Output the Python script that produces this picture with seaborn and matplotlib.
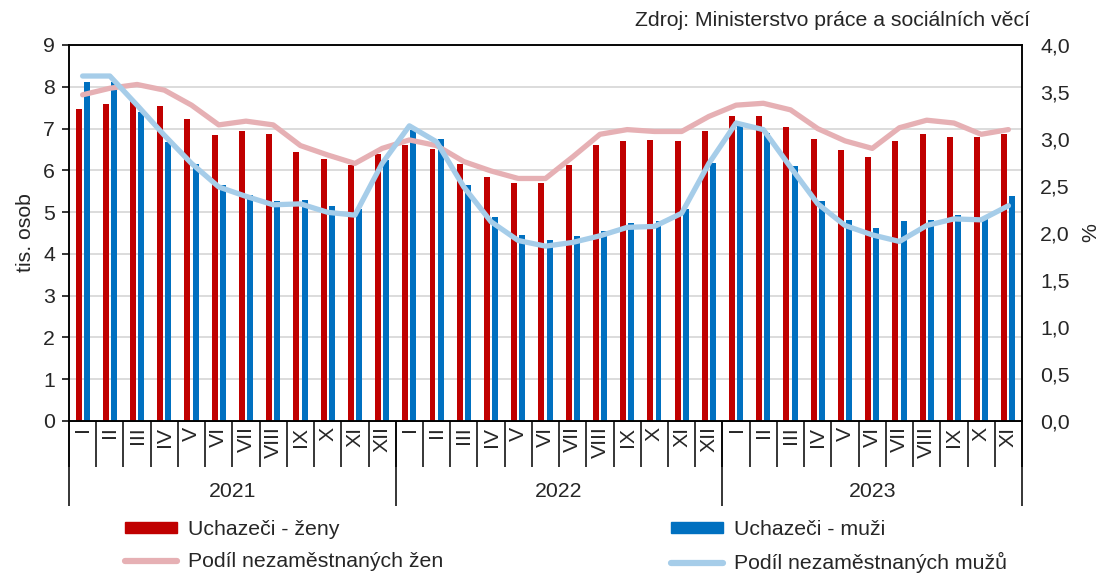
import pandas as pd
import matplotlib.pyplot as plt
import seaborn as sns
from matplotlib.patches import Patch
from matplotlib.lines import Line2D

# data
roky = ['2021', '2022', '2023']
mesice = ['I', 'II', 'III', 'IV', 'V', 'VI', 'VII', 'VIII', 'IX', 'X', 'XI', 'XII']
popisky = (mesice * 3)[:35]

uchazeci_zeny = [7.46, 7.58, 7.66, 7.54, 7.24, 6.84, 6.93, 6.86, 6.44, 6.27, 6.12, 6.38,
                 6.60, 6.52, 6.16, 5.84, 5.70, 5.70, 6.12, 6.60, 6.70, 6.72, 6.70, 6.95,
                 7.30, 7.30, 7.04, 6.74, 6.48, 6.31, 6.70, 6.86, 6.80, 6.80, 6.88]
uchazeci_muzi = [8.12, 8.12, 7.40, 6.68, 6.14, 5.65, 5.42, 5.26, 5.30, 5.14, 5.08, 6.24,
                 6.96, 6.76, 5.66, 4.88, 4.46, 4.34, 4.44, 4.54, 4.75, 4.78, 5.08, 6.18,
                 7.10, 6.90, 6.10, 5.27, 4.82, 4.62, 4.78, 4.80, 4.94, 4.84, 5.38]
podil_zen = [3.47, 3.54, 3.58, 3.52, 3.36, 3.15, 3.19, 3.15, 2.93, 2.83, 2.74, 2.90,
             2.99, 2.93, 2.76, 2.66, 2.58, 2.58, 2.81, 3.05, 3.10, 3.08, 3.08, 3.24,
             3.36, 3.38, 3.31, 3.11, 2.98, 2.90, 3.12, 3.20, 3.17, 3.05, 3.10]
podil_muzu = [3.67, 3.67, 3.36, 3.04, 2.74, 2.49, 2.39, 2.30, 2.31, 2.22, 2.19, 2.74,
              3.14, 2.97, 2.49, 2.12, 1.92, 1.86, 1.90, 1.97, 2.06, 2.07, 2.21, 2.74,
              3.17, 3.10, 2.70, 2.31, 2.08, 1.98, 1.91, 2.08, 2.15, 2.14, 2.29]

serie_bar = ['Uchazeči - ženy', 'Uchazeči - muži']
serie_line = ['Podíl nezaměstnaných žen', 'Podíl nezaměstnaných mužů']
barvy_bar = ['#C00000', '#0070C0']
barvy_line = ['#E6B0B4', '#A6CDE9']

n = len(popisky)
idx = list(range(n))

df_bar = pd.DataFrame({
    'idx': idx * 2,
    'hodnota': uchazeci_zeny + uchazeci_muzi,
    'serie': [serie_bar[0]] * n + [serie_bar[1]] * n,
})
df_line = pd.DataFrame({
    'idx': idx * 2,
    'hodnota': podil_zen + podil_muzu,
    'serie': [serie_line[0]] * n + [serie_line[1]] * n,
})

sns.set_theme(style='white')
plt.rcParams['font.family'] = ['Liberation Sans', 'DejaVu Sans']
FS = 15.3

fig = plt.figure(figsize=(10.98, 5.74), dpi=100)
ax = fig.add_axes([69 / 1098, 1 - 421 / 574, (1022 - 69) / 1098, (421 - 45) / 574])

sns.barplot(data=df_bar, x='idx', y='hodnota', hue='serie', order=idx,
            palette=barvy_bar, saturation=1, width=0.6, gap=0.27, linewidth=0,
            legend=False, ax=ax)
ax.set_xlim(-0.5, n - 0.5)
ax.set_ylim(0, 9)
ax.set_yticks(range(10))
ax.yaxis.grid(True, color='#D9D9D9', linewidth=1.3)
ax.set_axisbelow(True)
ax.tick_params(axis='y', labelsize=FS, length=5, width=1.1, color='black', pad=5, left=True)
ax.set_ylabel('tis. osob', fontsize=FS, labelpad=6)
ax.set_xlabel('')

# month boundaries as ticks, roman numerals in the middle
ax.set_xticks([i - 0.5 for i in range(n + 1)])
ax.set_xticklabels([])
ax.tick_params(axis='x', which='major', length=33, width=1.1, color='black', bottom=True)
ax.set_xticks(idx, minor=True)
ax.set_xticklabels(popisky, minor=True, rotation=90, fontsize=FS)
ax.tick_params(axis='x', which='minor', length=0, pad=4)

# years
sec = ax.secondary_xaxis('bottom')
sec.set_xticks([-0.5, 11.5, 23.5, n - 0.5])
sec.set_xticklabels([])
sec.tick_params(axis='x', which='major', length=61, width=1.1, color='black', bottom=True)
sec.set_xticks([5.5, 17.5, 29], minor=True)
sec.set_xticklabels(roky, minor=True, fontsize=FS)
sec.tick_params(axis='x', which='minor', length=0, pad=44)

for sp in ax.spines.values():
    sp.set_color('black')
    sp.set_linewidth(1.1)

ax2 = ax.twinx()
sns.lineplot(data=df_line, x='idx', y='hodnota', hue='serie', palette=barvy_line,
             linewidth=3.8, legend=False, ax=ax2, solid_capstyle='round')
ax2.set_ylim(0, 4)
ax2.set_xlim(-0.5, n - 0.5)
ticks2 = [i * 0.5 for i in range(9)]
ax2.set_yticks(ticks2)
ax2.set_yticklabels([f'{t:.1f}'.replace('.', ',') for t in ticks2], fontsize=FS)
ax2.tick_params(axis='y', length=0, pad=13)
ax2.set_ylabel('%', fontsize=FS, labelpad=8)
ax2.set_xlabel('')
ax2.grid(False)
for sp in ax2.spines.values():
    sp.set_color('black')
    sp.set_linewidth(1.1)

fig.text(1030 / 1098, 1 - 20 / 574, 'Zdroj: Ministerstvo práce a sociálních věcí',
         ha='right', va='center', fontsize=FS)

# legend
h1 = [Patch(color=barvy_bar[0], label=serie_bar[0]),
      Line2D([], [], color=barvy_line[0], linewidth=4.5, solid_capstyle='round', label=serie_line[0])]
h2 = [Patch(color=barvy_bar[1], label=serie_bar[1]),
      Line2D([], [], color=barvy_line[1], linewidth=4.5, solid_capstyle='round', label=serie_line[1])]
for hs, x0 in [(h1, 125), (h2, 671)]:
    fig.legend(handles=hs, loc='upper left', bbox_to_anchor=(x0 / 1098, 1 - 520 / 574),
               frameon=False, fontsize=FS, borderpad=0, borderaxespad=0,
               handlelength=2.45, handleheight=0.45, handletextpad=0.5, labelspacing=0.62)

plt.savefig('out.png', dpi=100)
